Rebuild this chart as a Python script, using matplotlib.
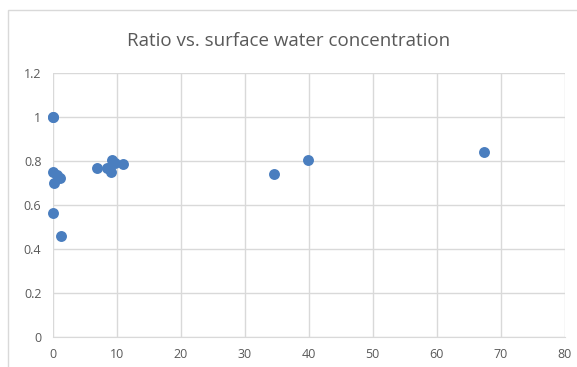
import matplotlib
matplotlib.use("Agg")
import matplotlib.pyplot as plt
from matplotlib.patches import Rectangle

# Data
conc = [0.03, 0.05, 0.03, 0.65, 1.17, 0.23, 0.05, 1.28,
        7.0, 8.56, 9.08, 9.33, 9.75, 11.05, 34.6, 39.9, 67.3]
ratio = [1.0, 1.0, 0.748, 0.736, 0.721, 0.70, 0.565, 0.459,
         0.77, 0.767, 0.751, 0.805, 0.79, 0.786, 0.741, 0.803, 0.84]

x_ticks = [0, 10, 20, 30, 40, 50, 60, 70, 80]
y_ticks = [0, 0.2, 0.4, 0.6, 0.8, 1.0, 1.2]
y_labels = ["0", "0.2", "0.4", "0.6", "0.8", "1", "1.2"]

plt.rcParams['font.family'] = ['Open Sans', 'DejaVu Sans']

fig = plt.figure(figsize=(5.77, 3.67), dpi=100)
ax = fig.add_axes([0.091, 0.082, 0.888, 0.719])

ax.scatter(conc, ratio, s=62, color='#4A7EBF', zorder=3, linewidths=0,
           clip_on=False)

ax.set_xlim(0, 80)
ax.set_ylim(0, 1.2)
ax.set_xticks(x_ticks)
ax.set_yticks(y_ticks)
ax.set_yticklabels(y_labels)
ax.grid(True, color='#D9D9D9', linewidth=1)
ax.set_axisbelow(True)
for side in ['top', 'right', 'left']:
    ax.spines[side].set_visible(False)
ax.spines['bottom'].set_color('#D9D9D9')
ax.tick_params(length=0, colors='#595959', labelsize=9, pad=8)

fig.text(0.5, 0.888, 'Ratio vs. surface water concentration', ha='center',
         va='center', fontsize=13.5, color='#595959')

# chart border
fig.patches.append(Rectangle((0.0139, -0.05), 1.05, 1.023, transform=fig.transFigure,
                             fill=False, edgecolor='#D9D9D9', linewidth=1))

fig.savefig('out.png', dpi=100)
